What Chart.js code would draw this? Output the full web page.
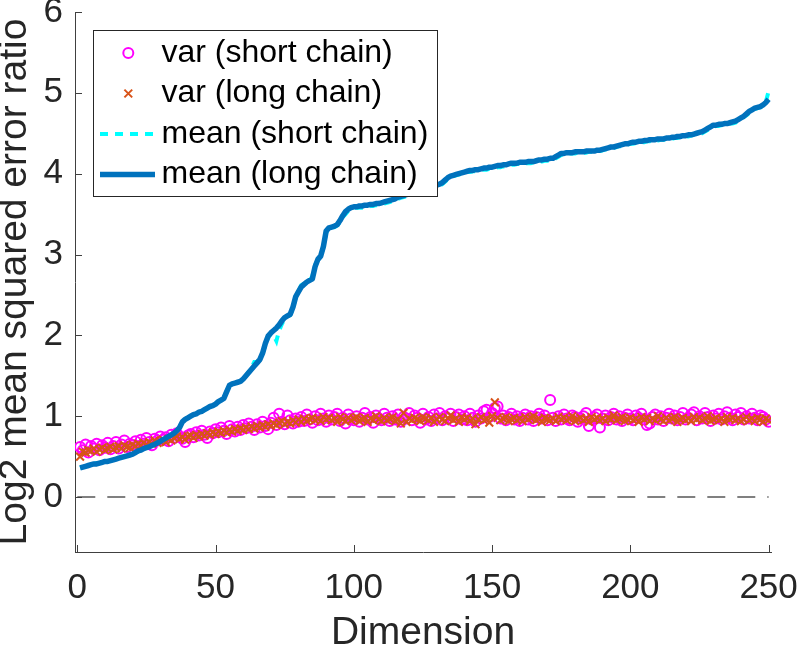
<!DOCTYPE html>
<html>
<head>
<meta charset="utf-8">
<script src="https://cdn.jsdelivr.net/npm/chart.js@4.4.1/dist/chart.umd.min.js"></script>
<style>
	html, body { margin: 0; padding: 0; background: #fff; }
	#wrap { width: 797px; height: 648px; }
</style>
</head>
<body>
<div id="wrap"><canvas id="grafica" width="797" height="648"></canvas></div>
<script>
// valores, dimension 1..250
var meanLong = [
	0.36,0.37,0.38,0.39,0.40,0.41,0.41,0.42,0.43,0.44,
	0.44,0.45,0.46,0.47,0.48,0.49,0.50,0.51,0.52,0.53,
	0.55,0.57,0.58,0.60,0.61,0.62,0.64,0.65,0.67,0.69,
	0.71,0.73,0.75,0.77,0.79,0.82,0.86,0.93,0.96,0.98,
	1.00,1.02,1.03,1.05,1.06,1.08,1.10,1.12,1.13,1.15,
	1.18,1.20,1.22,1.30,1.38,1.40,1.41,1.42,1.43,1.46,
	1.50,1.54,1.58,1.62,1.66,1.70,1.78,1.90,1.99,2.03,
	2.06,2.09,2.13,2.18,2.22,2.24,2.26,2.35,2.48,2.54,
	2.60,2.63,2.66,2.68,2.70,2.85,2.94,2.98,3.10,3.29,
	3.33,3.34,3.35,3.37,3.42,3.48,3.53,3.56,3.58,3.59,
	3.59,3.60,3.60,3.61,3.61,3.62,3.62,3.63,3.63,3.64,
	3.65,3.66,3.67,3.68,3.69,3.71,3.72,3.73,3.74,3.75,
	3.76,3.77,3.78,3.79,3.80,3.81,3.82,3.83,3.84,3.86,
	3.87,3.89,3.92,3.95,3.97,3.98,3.99,4.00,4.01,4.02,
	4.03,4.04,4.04,4.05,4.05,4.06,4.07,4.07,4.08,4.08,
	4.09,4.10,4.10,4.11,4.11,4.12,4.13,4.13,4.13,4.14,
	4.14,4.14,4.15,4.15,4.15,4.16,4.17,4.17,4.18,4.18,
	4.19,4.19,4.21,4.23,4.25,4.25,4.26,4.26,4.26,4.27,
	4.27,4.27,4.27,4.28,4.28,4.28,4.28,4.29,4.29,4.30,
	4.31,4.32,4.33,4.33,4.34,4.35,4.36,4.37,4.37,4.38,
	4.39,4.39,4.40,4.40,4.41,4.41,4.42,4.42,4.42,4.43,
	4.43,4.43,4.44,4.44,4.45,4.45,4.46,4.46,4.47,4.47,
	4.48,4.48,4.49,4.50,4.51,4.52,4.54,4.56,4.58,4.60,
	4.60,4.61,4.61,4.62,4.62,4.63,4.64,4.65,4.67,4.69,
	4.71,4.74,4.77,4.79,4.81,4.82,4.83,4.85,4.88,4.92
];

var meanShort = [
	0.36,0.37,0.38,0.39,0.40,0.41,0.42,0.42,0.43,0.44,
	0.45,0.45,0.46,0.47,0.48,0.49,0.50,0.51,0.52,0.53,
	0.55,0.56,0.58,0.60,0.61,0.62,0.63,0.65,0.67,0.69,
	0.71,0.73,0.75,0.77,0.80,0.83,0.87,0.94,0.97,0.98,
	1.00,1.01,1.03,1.05,1.06,1.08,1.09,1.11,1.13,1.15,
	1.17,1.20,1.23,1.31,1.37,1.40,1.41,1.42,1.43,1.46,
	1.50,1.55,1.60,1.67,1.67,1.70,1.77,1.88,1.97,2.02,
	2.00,1.93,2.06,2.14,2.21,2.23,2.25,2.33,2.47,2.55,
	2.62,2.64,2.66,2.68,2.73,2.87,2.93,2.97,3.09,3.27,
	3.32,3.33,3.34,3.36,3.40,3.46,3.50,3.54,3.56,3.57,
	3.58,3.58,3.58,3.59,3.59,3.60,3.60,3.61,3.61,3.62,
	3.63,3.64,3.65,3.66,3.67,3.69,3.70,3.71,3.72,3.73,
	3.74,3.75,3.76,3.77,3.78,3.79,3.80,3.81,3.82,3.84,
	3.85,3.87,3.90,3.93,3.95,3.97,3.98,3.99,4.00,4.01,
	4.02,4.02,4.03,4.03,4.04,4.04,4.05,4.05,4.06,4.06,
	4.07,4.08,4.08,4.09,4.09,4.10,4.11,4.11,4.12,4.12,
	4.12,4.13,4.13,4.13,4.14,4.14,4.15,4.15,4.16,4.16,
	4.17,4.18,4.19,4.21,4.23,4.24,4.24,4.25,4.25,4.25,
	4.26,4.26,4.26,4.26,4.27,4.27,4.27,4.28,4.28,4.29,
	4.30,4.30,4.31,4.32,4.33,4.34,4.34,4.35,4.36,4.37,
	4.37,4.38,4.38,4.39,4.39,4.40,4.40,4.41,4.41,4.41,
	4.42,4.42,4.42,4.43,4.43,4.44,4.44,4.45,4.45,4.46,
	4.46,4.47,4.48,4.48,4.49,4.50,4.52,4.54,4.56,4.58,
	4.59,4.59,4.60,4.60,4.61,4.62,4.62,4.63,4.65,4.67,
	4.70,4.72,4.75,4.78,4.80,4.81,4.82,4.84,4.89,5.02
];

var varLong = [
	0.50,0.56,0.55,0.58,0.57,0.60,0.56,0.59,0.61,0.58,
	0.60,0.62,0.59,0.61,0.63,0.60,0.64,0.62,0.61,0.65,
	0.63,0.66,0.64,0.67,0.65,0.68,0.66,0.70,0.67,0.69,
	0.71,0.68,0.72,0.70,0.73,0.75,0.72,0.74,0.71,0.75,
	0.76,0.73,0.77,0.75,0.78,0.76,0.79,0.77,0.80,0.78,
	0.81,0.79,0.82,0.80,0.83,0.81,0.84,0.82,0.85,0.83,
	0.86,0.84,0.87,0.85,0.88,0.86,0.89,0.87,0.90,0.88,
	0.91,0.89,0.92,0.94,0.90,0.93,0.91,0.95,0.92,0.96,
	0.93,0.97,0.94,0.96,0.98,0.95,0.97,0.94,0.99,0.96,
	0.98,0.95,0.97,0.93,0.99,0.96,0.94,0.98,0.95,0.97,
	0.99,0.94,0.96,0.98,0.93,0.97,0.95,1.00,0.96,0.94,
	0.98,0.95,0.97,0.99,0.94,0.96,0.91,1.04,0.93,0.97,
	0.95,0.98,0.96,0.94,0.99,0.97,0.95,0.98,0.93,0.96,
	0.99,0.96,0.94,0.98,1.01,0.95,0.97,0.93,0.99,0.96,
	0.98,0.94,0.97,0.90,0.96,0.99,0.95,0.97,0.92,1.00,
	1.17,0.98,0.95,0.97,0.99,0.94,0.96,0.98,0.95,0.97,
	0.94,0.99,0.96,0.98,1.00,0.95,0.97,0.93,0.98,0.96,
	0.95,0.97,0.94,0.99,0.96,0.98,0.95,0.97,1.00,0.94,
	0.96,0.98,0.95,0.97,0.93,0.99,0.96,0.98,0.95,0.97,
	0.94,0.98,0.96,1.01,0.95,0.97,0.99,0.94,0.96,0.98,
	0.95,0.97,0.93,0.99,0.96,0.98,0.94,0.97,0.95,1.00,
	0.96,0.94,0.98,0.95,0.97,0.99,0.93,0.96,0.98,0.95,
	0.97,0.94,0.99,0.96,0.98,0.95,0.97,1.00,0.94,0.96,
	0.98,0.95,0.97,0.93,0.99,0.96,0.98,0.95,0.97,0.94,
	0.96,0.99,0.95,0.97,0.94,0.98,0.96,0.93,0.97,0.95
];

var varShort = [
	0.62,0.58,0.65,0.55,0.63,0.60,0.66,0.58,0.64,0.61,
	0.67,0.59,0.63,0.68,0.60,0.65,0.70,0.62,0.66,0.64,
	0.69,0.63,0.71,0.66,0.73,0.68,0.64,0.72,0.70,0.75,
	0.71,0.74,0.69,0.77,0.73,0.79,0.75,0.72,0.68,0.76,
	0.78,0.74,0.80,0.76,0.82,0.77,0.73,0.81,0.79,0.84,
	0.80,0.86,0.82,0.78,0.88,0.84,0.81,0.87,0.83,0.89,
	0.85,0.91,0.87,0.83,0.90,0.86,0.93,0.88,0.84,0.92,
	0.98,0.89,1.03,0.93,0.90,1.01,0.95,0.91,0.97,0.93,
	0.99,0.94,1.02,0.96,0.92,1.00,0.95,1.03,0.97,0.93,
	1.01,0.96,0.99,1.03,0.94,0.98,0.91,1.02,0.97,0.95,
	1.00,0.93,0.98,1.04,0.96,0.99,0.92,1.01,0.97,0.95,
	1.03,0.98,0.94,1.00,0.96,1.02,0.93,0.99,0.97,1.04,
	0.95,1.01,0.98,0.92,1.03,0.96,0.99,0.94,1.02,0.97,
	1.04,0.95,1.00,0.97,1.03,0.94,0.99,1.02,0.96,1.00,
	0.95,1.03,0.98,0.93,1.01,0.97,1.06,1.08,0.99,1.04,
	1.10,1.12,0.97,1.01,0.95,0.99,1.03,0.96,1.00,0.94,
	0.98,1.02,0.96,1.00,0.94,0.99,1.03,0.97,1.01,0.95,
	1.20,0.98,0.94,1.00,0.96,1.02,0.97,0.95,1.01,0.99,
	0.93,0.97,1.00,1.04,0.88,0.96,0.99,1.02,0.86,0.97,
	1.01,0.95,0.99,1.03,0.96,1.00,0.94,0.98,1.02,0.97,
	0.95,1.01,0.98,1.03,0.96,0.89,0.91,0.99,1.02,0.96,
	1.00,0.94,0.98,1.03,0.97,1.01,0.95,0.99,1.04,0.96,
	0.98,1.02,1.05,0.95,1.00,0.97,1.04,0.99,0.94,1.01,
	0.97,1.03,0.96,1.00,1.05,0.98,0.95,1.02,0.99,1.04,
	0.96,1.00,0.97,1.03,0.98,0.95,1.01,0.99,0.96,0.93
];

var xTicks = [0, 50, 100, 150, 200, 250];
var yTicks = [0, 1, 2, 3, 4, 5, 6];
var refLine = [0, 0];
var refDims = [0, 250];
var legendLabels = ['var (short chain)', 'var (long chain)', 'mean (short chain)', 'mean (long chain)'];

var fuente = "'Liberation Sans', Arial, Helvetica, sans-serif";
var colorEje = '#404040';

// la dimension es el indice 1..n
var puntos = function (valores) {
	let out = [];
	for (let i = 0; i < valores.length; i++) {
		out.push({x: i + 1, y: valores[i]});
	}
	return out;
};

var marcasEjes = {
	id: 'marcasEjes',
	afterDraw: function (chart) {
		let ctx = chart.ctx;
		let xs = chart.scales.x, ys = chart.scales.y;
		ctx.save();
		ctx.strokeStyle = colorEje;
		ctx.lineWidth = 1;
		ctx.beginPath();
		xTicks.forEach(function (v) {
			let px = Math.round(xs.getPixelForValue(v)) + 0.5;
			ctx.moveTo(px, ys.bottom);
			ctx.lineTo(px, ys.bottom - 7);
		});
		yTicks.forEach(function (v) {
			let py = Math.round(ys.getPixelForValue(v)) + 0.5;
			ctx.moveTo(xs.left, py);
			ctx.lineTo(xs.left + 7, py);
		});
		ctx.stroke();
		ctx.restore();
	}
};

// leyenda con caja, dentro del area del grafico
var leyenda = {
	id: 'leyenda',
	afterDraw: function (chart) {
		let ctx = chart.ctx;
		let box = {x: 93.5, y: 30.5, w: 344, h: 166};
		ctx.save();
		ctx.fillStyle = '#fff';
		ctx.fillRect(box.x, box.y, box.w, box.h);
		ctx.strokeStyle = '#262626';
		ctx.lineWidth = 1;
		ctx.strokeRect(box.x, box.y, box.w, box.h);

		for (let i = 0; i < 4; i++) {
			let ds = chart.data.datasets[i];
			let y = 53 + i * 40.5;
			ctx.setLineDash([]);
			ctx.strokeStyle = ds.borderColor;
			if (ds.pointStyle === 'circle') {
				ctx.lineWidth = ds.borderWidth;
				ctx.beginPath();
				ctx.arc(128.3, y, ds.pointRadius, 0, Math.PI * 2);
				ctx.stroke();
			} else if (ds.pointStyle === 'crossRot') {
				let r = ds.pointRadius * 0.707;
				ctx.lineWidth = ds.borderWidth;
				ctx.beginPath();
				ctx.moveTo(128.3 - r, y - r); ctx.lineTo(128.3 + r, y + r);
				ctx.moveTo(128.3 - r, y + r); ctx.lineTo(128.3 + r, y - r);
				ctx.stroke();
			} else {
				ctx.lineWidth = ds.borderWidth;
				ctx.setLineDash(ds.borderDash || []);
				ctx.beginPath();
				ctx.moveTo(100, y);
				ctx.lineTo(155, y);
				ctx.stroke();
			}
			ctx.setLineDash([]);
			ctx.fillStyle = '#000';
			ctx.font = '32px ' + fuente;
			ctx.textBaseline = 'middle';
			ctx.textAlign = 'left';
			ctx.fillText(legendLabels[i], 161.5, y);
		}
		ctx.restore();
	}
};

let ctx = document.getElementById('grafica').getContext('2d');
let chart = new Chart(ctx, {
	type: 'line',
	data: {
		datasets: [{
			label: legendLabels[0],
			data: puntos(varShort),
			showLine: false,
			pointStyle: 'circle',
			pointRadius: 5,
			borderWidth: 2,
			borderColor: '#FF00FF',
			backgroundColor: 'rgba(0,0,0,0)',
			order: 3
		}, {
			label: legendLabels[1],
			data: puntos(varLong),
			showLine: false,
			pointStyle: 'crossRot',
			pointRadius: 5.5,
			borderWidth: 2,
			borderColor: '#D95319',
			backgroundColor: '#D95319',
			order: 2
		}, {
			label: legendLabels[2],
			data: puntos(meanShort),
			pointRadius: 0,
			borderWidth: 4,
			borderColor: '#00FFFF',
			borderDash: [8, 7],
			borderCapStyle: 'butt',
			order: 1
		}, {
			label: legendLabels[3],
			data: puntos(meanLong),
			pointRadius: 0,
			borderWidth: 5.5,
			borderColor: '#0072BD',
			borderJoinStyle: 'round',
			order: 0
		}, {
			label: 'ref',
			data: refDims.map(function (d, i) { return {x: d, y: refLine[i]}; }),
			pointRadius: 0,
			borderWidth: 2,
			borderColor: '#808080',
			borderDash: [18, 12],
			order: 4
		}]
	},
	options: {
		responsive: false,
		animation: false,
		layout: {padding: {top: 12, right: 26, left: 0, bottom: 0}},
		plugins: {
			legend: {display: false},
			tooltip: {enabled: false}
		},
		scales: {
			x: {
				type: 'linear',
				min: -0.83,
				max: 250.87,
				afterBuildTicks: function (s) { s.ticks = xTicks.map(function (v) { return {value: v}; }); },
				afterFit: function (s) { s.height = 96; s.paddingLeft = 0; s.paddingRight = 0; },
				grid: {display: true, drawOnChartArea: false, drawTicks: false},
				border: {display: true, color: colorEje, width: 1},
				ticks: {
					color: '#262626',
					padding: 15,
					maxRotation: 0,
					autoSkip: false,
					font: {family: fuente, size: 35}
				},
				title: {
					display: true,
					text: 'Dimension',
					color: '#262626',
					padding: 0,
					font: {family: fuente, size: 39, lineHeight: 0.77}
				}
			},
			y: {
				type: 'linear',
				min: -0.68,
				max: 6,
				afterBuildTicks: function (s) { s.ticks = yTicks.map(function (v) { return {value: v}; }); },
				afterFit: function (s) { s.width = 75; s.paddingTop = 0; s.paddingBottom = 0; },
				grid: {display: true, drawOnChartArea: false, drawTicks: false},
				border: {display: true, color: colorEje, width: 1},
				ticks: {
					color: '#262626',
					padding: 12,
					autoSkip: false,
					font: {family: fuente, size: 35}
				},
				title: {
					display: true,
					text: 'Log2 mean squared error ratio',
					color: '#262626',
					padding: 0,
					font: {family: fuente, size: 39, lineHeight: 0.77}
				}
			}
		}
	},
	plugins: [marcasEjes, leyenda]
});
</script>
</body>
</html>
